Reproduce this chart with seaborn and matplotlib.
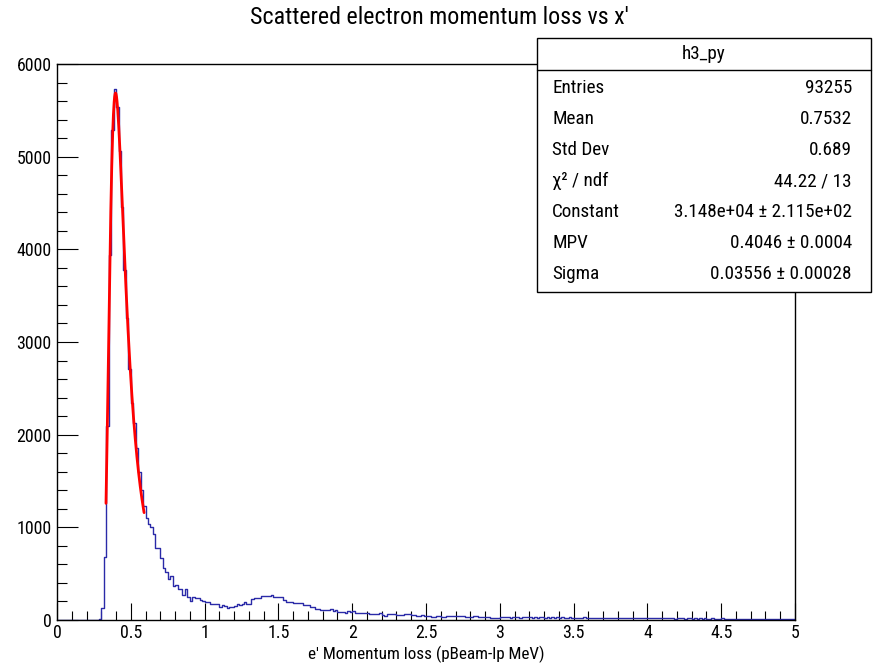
import numpy as np
import pandas as pd
import matplotlib
matplotlib.use("Agg")
import matplotlib.pyplot as plt
import seaborn as sns
from matplotlib import font_manager as fm
from matplotlib.patches import Rectangle
from matplotlib.lines import Line2D
from matplotlib.ticker import MultipleLocator, FuncFormatter

# ---------------- data ----------------
x_min, x_max, n_bins = 0.0, 5.0, 300

counts_peak = [0] * 17 + [8, 126, 683, 2090, 3940, 5290, 5727, 5540, 5065, 4460, 3777,
                          3256, 2705, 2345, 2122, 1853, 1600, 1403, 1230, 1097, 1040, 1007]
counts_tail1 = [928, 773, 773, 666, 565, 521, 442, 475, 367, 378, 334, 334, 270, 334, 252,
                209, 252, 241, 241, 216, 205, 194, 190, 176, 169, 172, 176, 144, 165, 151,
                133, 137, 137, 155, 172, 160, 169, 191, 172, 172]
counts_bump = [223, 234, 234, 234, 262, 262, 258, 260, 270, 252, 252, 245, 245, 216, 194,
               196, 196, 180, 180, 183, 183, 165, 160, 160, 144, 144, 122, 122, 108, 110,
               110, 110, 115, 100, 108, 86, 86, 86, 79, 93, 83, 97]
counts_tail2 = [72, 72, 72, 72, 72, 72, 61, 61, 65, 65, 72, 56, 47, 65, 65, 61, 61, 58, 58,
                54, 61, 61, 61, 54, 54, 47, 47, 58, 43, 43, 43, 36, 36, 43, 43, 36, 36, 43,
                43, 47, 47, 40, 40, 43, 43, 36, 36, 36, 40, 40, 32, 32, 36, 36, 36, 25, 25,
                25, 25]
counts_tail3 = [30, 27, 33, 29, 26, 31, 28, 30, 25, 29, 32, 27, 28, 26, 30, 24, 28, 27, 25, 29,
                26, 28, 24, 27, 25, 29, 23, 26, 27, 24, 25, 22, 26, 24, 27, 23, 25, 22, 24, 26,
                23, 21, 25, 22, 24, 20, 23, 22, 21, 24, 20, 22, 19, 23, 21, 20, 22, 19, 21, 20,
                18, 21, 19, 20, 17, 19, 18, 20, 17, 19, 18, 16, 19, 17, 18, 16, 18, 17, 15, 18,
                16, 17, 15, 18, 16, 15, 17, 14, 16, 15, 17, 14, 16, 15, 13, 16, 14, 15, 13, 15,
                14, 13, 15, 12, 14, 13, 15, 12, 13, 14, 12, 13, 11, 14, 12, 13, 11, 12, 13, 12]
counts = np.array(counts_peak + counts_tail1 + counts_bump + counts_tail2 + counts_tail3, float)
counts = counts[:n_bins]
if len(counts) < n_bins:
    counts = np.concatenate([counts, np.full(n_bins - len(counts), counts[-1])])

# Landau fit parameters (shown in the stats box)
fit_constant, fit_mpv, fit_sigma = 3.148e4, 0.4046, 0.03556
fit_range = (0.332, 0.59)

title = "Scattered electron momentum loss vs x'"
xlabel = "e' Momentum loss (pBeam-lp MeV)"
stats_name = "h3_py"
stat_labels = ["Entries", "Mean", "Std Dev", "\u03c7\u00b2 / ndf", "Constant", "MPV", "Sigma"]
stat_values = ["93255", "0.7532", "0.689", "44.22 / 13",
               "3.148e+04 \u00b1 2.115e+02", "0.4046 \u00b1 0.0004", "0.03556 \u00b1 0.00028"]

bin_w = (x_max - x_min) / n_bins
edges = np.linspace(x_min, x_max, n_bins + 1)
centers = 0.5 * (edges[:-1] + edges[1:])
hist_df = pd.DataFrame({"x": centers, "w": counts})


def landau(lam):
    t = np.linspace(1e-9, 60, 120001)
    out = []
    for l in np.atleast_1d(lam):
        f = np.exp(-t * np.log(t) - l * t) * np.sin(np.pi * t)
        out.append(np.trapezoid(f, t) / np.pi)
    return np.array(out)


xf = np.linspace(fit_range[0], fit_range[1], 160)
yf = fit_constant * landau((xf - fit_mpv) / fit_sigma)
fit_df = pd.DataFrame({"x": xf, "y": yf})

# ---------------- style ----------------
sns.set_theme(style="white")

# look for a condensed / narrow sans font (ROOT output uses a narrow Helvetica)
pref = ["liberationsansnarrow", "robotocondensed", "dejavusanscondensed",
        "opensanscondensed", "opensans_condensed", "notosanscondensed", "condensed", "narrow"]
chosen = None
fonts = [f for f in fm.fontManager.ttflist
         if f.style == "normal" and str(f.weight) in ("400", "normal", "regular", "book")]
for key in pref:
    for f in fonts:
        fn = f.fname.lower().replace("-", "").replace(" ", "")
        if key in fn and "bold" not in fn and "italic" not in fn and "light" not in fn \
                and "oblique" not in fn and "medium" not in fn and "semi" not in fn \
                and "thin" not in fn and "black" not in fn and "extra" not in fn:
            chosen = f
            break
    if chosen is not None:
        break

if chosen is not None:
    plt.rcParams["font.family"] = [chosen.name, "DejaVu Sans"]
    plt.rcParams["font.stretch"] = chosen.stretch
    narrow = "narrow" in chosen.fname.lower()
    sc = 1.0 if narrow else 0.92
else:
    plt.rcParams["font.family"] = ["Liberation Sans", "DejaVu Sans"]
    sc = 0.82

W, H = 873, 669
fig = plt.figure(figsize=(W / 100, H / 100), dpi=100)
fig.patch.set_facecolor("white")
L, R, T, B = 57, 795, 64, 620
ax = fig.add_axes([L / W, 1 - B / H, (R - L) / W, (B - T) / H])
ax.set_facecolor("white")

sns.histplot(data=hist_df, x="x", weights="w", binwidth=bin_w, binrange=(x_min, x_max),
             element="step", fill=False, color="#2a2aa8", linewidth=1.0, ax=ax)
sns.lineplot(data=fit_df, x="x", y="y", color="#ff0000", linewidth=2.0, ax=ax)

ax.set_xlim(x_min, x_max)
ax.set_ylim(0, 6000)
ax.set_ylabel("")
ax.xaxis.set_major_locator(MultipleLocator(0.5))
ax.xaxis.set_minor_locator(MultipleLocator(0.1))
ax.yaxis.set_major_locator(MultipleLocator(1000))
ax.yaxis.set_minor_locator(MultipleLocator(200))
ax.xaxis.set_major_formatter(FuncFormatter(lambda v, p: f"{v:g}"))
ax.yaxis.set_major_formatter(FuncFormatter(lambda v, p: f"{v:g}"))
ax.tick_params(axis="x", which="major", direction="in", length=12.5, width=0.8,
               color="black", labelsize=14 * sc, pad=3, labelcolor="black")
ax.tick_params(axis="x", which="minor", direction="in", length=6.5, width=0.8, color="black")
ax.tick_params(axis="y", which="major", direction="in", length=15, width=0.8,
               color="black", labelsize=14 * sc, pad=4, labelcolor="black")
ax.tick_params(axis="y", which="minor", direction="in", length=7.2, width=0.8, color="black")
ax.tick_params(top=False, right=False, bottom=True, left=True, which="both")
for s in ax.spines.values():
    s.set_color("black")
    s.set_linewidth(1.0)

ax.set_xlabel(xlabel, fontsize=13.4 * sc, color="black")
ax.xaxis.set_label_coords(0.5, -0.046)

fig.text(439 / W, 1 - 18 / H, title, ha="center", va="center", fontsize=18.8 * sc, color="black")

# stats box
bx0, by0, bx1, by1 = 537, 38, 871, 292
fig.add_artist(Rectangle((bx0 / W, 1 - by1 / H), (bx1 - bx0) / W, (by1 - by0) / H,
                         transform=fig.transFigure, facecolor="white", edgecolor="black",
                         linewidth=1.0, zorder=5))
fig.add_artist(Line2D([bx0 / W, bx1 / W], [1 - 70 / H, 1 - 70 / H], transform=fig.transFigure,
                      color="black", linewidth=1.0, zorder=6))
fig.text(704 / W, 1 - 54 / H, stats_name, ha="center", va="center", fontsize=15 * sc,
         color="black", zorder=7)
for k, (lab, val) in enumerate(zip(stat_labels, stat_values)):
    yy = 1 - (88 + 31 * k) / H
    fig.text(552 / W, yy, lab, ha="left", va="center", fontsize=15 * sc, color="black", zorder=7)
    fig.text(852 / W, yy, val, ha="right", va="center", fontsize=15 * sc, color="black", zorder=7)

fig.savefig("out.png", dpi=100, facecolor="white")
